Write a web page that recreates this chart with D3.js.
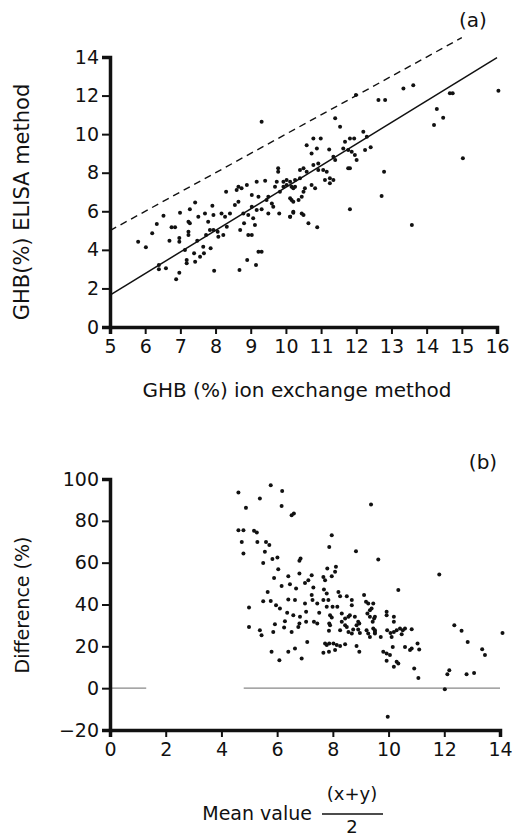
<!DOCTYPE html>
<html>
<head>
<meta charset="utf-8">
<script src="https://cdn.jsdelivr.net/npm/d3@7"></script>
<style>
  body { margin: 0; background: #fff; }
  svg text { font-family: "DejaVu Sans", sans-serif; fill: #111; }
</style>
</head>
<body>
<svg id="chart" width="514" height="838"></svg>
<script>
// panel (a): ion exchange (x) vs ELISA (y), GHB %
const ionX = [5.80,6.02,6.20,6.33,6.52,6.39,6.39,6.59,6.69,6.75,6.85,6.97,6.97,6.99,6.88,6.97,7.23,7.27,7.27,7.42,
  7.23,7.23,7.18,7.18,7.13,7.39,7.42,7.48,7.51,7.56,7.67,7.65,7.70,7.73,7.79,7.86,7.84,7.94,7.91,7.94,
  7.96,8.06,8.08,8.17,8.27,8.22,8.30,8.32,8.41,8.60,8.65,8.74,8.89,8.55,8.65,8.70,8.68,8.79,8.93,8.81,
  8.93,9.03,8.90,9.03,9.22,9.03,9.17,9.07,9.12,9.15,9.17,9.22,9.31,9.31,9.41,9.45,9.50,9.50,9.60,9.64,
  9.69,9.78,9.78,9.81,9.74,9.93,10.12,9.83,9.93,10.02,10.12,10.16,10.21,10.26,10.40,
  11.99,12.63,12.82,11.40,11.54,10.59,10.78,10.99,10.73,10.88,11.23,11.35,11.40,11.68,11.82,11.94,
  11.63,11.77,11.87,11.96,12.01,11.77,11.82,12.20,12.30,12.25,12.41,12.79,12.72,11.82,13.58,
  11.06,11.16,11.11,11.25,11.35,11.25,10.78,10.92,10.50,10.59,10.92,10.40,10.26,10.02,10.16,10.21,
  10.54,10.50,10.73,10.83,10.45,10.36,10.12,10.21,10.21,10.45,10.50,10.64,10.89,10.12,
  14.66,14.74,14.29,14.47,14.21,15.03,13.34,13.62,16.04,9.31];
const elisaY = [4.42,4.13,4.86,5.34,5.77,3.21,3.00,3.04,4.47,5.17,5.17,4.61,4.42,5.93,2.47,2.81,5.46,5.38,6.10,6.46,
  4.94,4.77,3.47,3.30,3.99,3.82,3.38,4.47,5.72,3.64,3.82,4.16,5.89,4.77,5.46,4.08,5.03,5.03,6.29,5.81,
  2.92,4.94,4.68,5.89,5.72,4.77,7.01,5.20,5.89,7.10,7.27,7.19,7.36,6.32,6.50,5.03,2.95,5.89,5.81,5.38,
  4.77,4.77,3.47,6.84,6.75,6.24,6.07,5.64,5.29,3.21,7.53,3.90,3.90,6.10,7.58,6.58,6.75,5.89,6.41,6.24,
  7.27,8.23,8.05,5.89,7.53,7.53,7.53,7.01,7.27,7.36,5.72,6.58,5.98,7.27,8.14,
  12.03,11.77,11.77,10.82,10.38,9.43,9.78,9.78,9.00,9.26,9.21,8.83,8.66,9.61,9.78,9.78,
  9.26,9.18,9.09,8.92,8.66,8.23,8.23,10.12,9.87,9.18,9.32,8.05,6.79,6.10,5.29,
  8.14,8.05,7.62,7.71,7.62,7.45,8.40,8.48,8.23,8.05,8.14,7.71,7.62,7.62,7.27,7.19,
  7.19,7.01,7.36,7.19,6.75,6.58,6.67,6.50,5.93,5.89,5.81,5.38,5.17,5.72,
  12.12,12.12,11.30,10.85,10.47,8.75,12.37,12.54,12.25,10.64];

// fitted line (solid) and line of identity (dashed)
const fitIntercept = -3.95, fitSlope = 1.12;
const fitRange = [5, 16];
const identityRange = [5, 15];

const ticksAX = [5,6,7,8,9,10,11,12,13,14,15,16];
const ticksAY = [0,2,4,6,8,10,12,14];

// panel (b): mean value vs difference %
const meanVal = [4.61,4.88,4.61,4.79,4.73,4.79,4.99,4.99,5.38,5.17,5.27,5.29,5.56,5.50,5.60,5.72,5.77,6.18,6.16,6.52,
  6.60,5.83,6.01,6.04,5.89,5.66,5.50,5.77,5.96,6.10,5.38,5.44,5.92,5.86,5.80,6.08,6.16,6.40,6.46,6.40,
  6.64,6.36,6.58,6.28,6.25,6.52,6.40,6.64,6.68,6.80,6.80,6.84,6.82,6.80,6.76,6.88,7.08,7.00,7.04,7.04,
  7.12,7.24,7.00,7.24,7.27,7.30,7.32,7.44,7.51,7.44,7.66,7.72,7.80,8.11,7.96,8.08,7.68,7.78,7.66,7.84,
  7.78,7.99,7.90,7.96,7.87,7.90,7.86,7.72,7.78,7.87,8.02,8.14,7.66,7.86,8.08,8.26,8.44,8.20,8.26,8.16,
  8.32,8.32,8.44,8.56,8.61,8.44,8.50,8.56,8.68,8.26,8.50,8.68,8.68,8.79,8.91,8.85,8.95,8.91,8.97,8.85,
  8.95,8.73,9.12,9.19,9.27,9.33,9.24,9.33,9.48,9.21,9.27,9.33,9.45,9.51,7.96,7.87,8.83,9.37,9.63,
  11.82,10.35,9.45,9.39,9.51,9.43,9.93,9.93,10.19,10.19,9.51,9.51,9.72,9.95,10.07,10.19,10.29,10.41,10.51,10.59,
  10.47,10.83,10.11,10.15,9.81,9.93,10.05,9.93,10.19,10.29,10.35,10.59,10.77,10.83,11.04,11.10,10.92,11.07,
  12.18,12.11,12.02,12.36,12.62,12.84,12.80,13.07,13.36,13.46,14.09,9.97];
const diffPct = [93.5,86.2,75.5,75.5,69.9,64.4,38.6,29.3,90.7,75.2,74.4,69.9,65.2,59.9,69.9,68.4,97.0,94.3,87.1,82.7,
  83.5,61.7,62.5,56.9,52.7,46.0,41.6,41.7,39.7,38.1,27.7,25.3,30.6,26.9,17.4,13.4,48.8,53.5,49.7,42.4,
  42.1,36.0,34.9,32.0,29.0,26.9,17.4,19.0,47.7,54.8,60.9,62.0,34.1,30.9,29.3,14.2,22.1,40.5,36.5,31.7,
  51.6,54.0,50.3,44.5,42.1,48.1,31.7,30.9,36.0,40.5,53.2,51.6,57.2,58.0,53.5,55.6,47.2,45.3,42.1,42.1,
  38.9,38.9,34.9,33.8,30.9,30.1,27.4,21.4,20.6,21.4,21.4,20.6,16.9,17.4,18.2,20.2,21.0,46.0,44.0,38.9,
  35.7,31.7,33.3,34.1,34.9,30.1,29.3,26.9,26.1,27.7,44.0,42.1,39.7,34.1,31.7,30.1,30.9,28.1,26.4,20.1,
  17.4,28.1,44.5,41.3,40.5,37.3,35.7,34.1,33.3,27.7,26.1,24.5,28.5,26.9,73.1,67.5,65.5,87.8,61.5,
  54.4,46.9,40.5,38.1,34.1,31.7,36.5,34.9,34.1,31.7,27.7,26.1,24.5,27.7,26.4,26.9,27.7,28.5,27.7,28.5,
  25.8,28.2,24.5,19.7,17.4,16.6,15.8,13.1,10.2,12.6,11.8,19.7,18.2,19.0,21.4,18.5,9.4,4.9,
  8.6,6.7,-0.5,30.1,27.4,22.1,6.7,7.3,18.6,15.8,26.4,-13.7];

const zeroSegments = [[0, 1.3], [4.8, 14]];
const ticksBX = [0,2,4,6,8,10,12,14];
const ticksBY = [-20,0,20,40,60,80,100];

const svg = d3.select("#chart");

// ---------- panel (a) ----------
const xA = d3.scaleLinear().domain([5, 16]).range([110, 497]);
const yA = d3.scaleLinear().domain([0, 14]).range([327, 57]);

const gA = svg.append("g");

gA.append("g")
  .attr("transform", `translate(${xA(5)},0)`)
  .call(d3.axisLeft(yA).tickValues(ticksAY).tickSizeOuter(0).tickSize(8).tickPadding(3));
gA.append("g")
  .attr("transform", `translate(0,${yA(0)})`)
  .call(d3.axisBottom(xA).tickValues(ticksAX).tickSizeOuter(0).tickSize(7).tickPadding(6));

// identity line
const lineA = d3.line().x(d => xA(d[0])).y(d => yA(d[1]));
gA.append("path")
  .datum(identityRange.map(v => [v, v]))
  .attr("d", lineA)
  .attr("fill", "none").attr("stroke", "#111").attr("stroke-width", 1.4)
  .attr("stroke-dasharray", "7,5");
// fitted line
gA.append("path")
  .datum(fitRange.map(v => [v, fitIntercept + fitSlope * v]))
  .attr("d", lineA)
  .attr("fill", "none").attr("stroke", "#111").attr("stroke-width", 1.5);

gA.selectAll("circle.pt")
  .data(ionX.map((v, i) => [v, elisaY[i]]))
  .join("circle")
  .attr("class", "pt")
  .attr("cx", d => xA(d[0]))
  .attr("cy", d => yA(d[1]))
  .attr("r", 2)
  .attr("fill", "#111");

gA.append("text").attr("x", 473).attr("y", 27).attr("text-anchor", "middle")
  .style("font-size", "20px").text("(a)");
gA.append("text")
  .attr("transform", "translate(29,202) rotate(-90)")
  .attr("text-anchor", "middle").style("font-size", "21px")
  .text("GHB(%) ELISA method");
gA.append("text").attr("x", 297).attr("y", 397).attr("text-anchor", "middle")
  .style("font-size", "20px").text("GHB (%) ion exchange method");

// ---------- panel (b) ----------
const xB = d3.scaleLinear().domain([0, 14]).range([110, 500]);
const yB = d3.scaleLinear().domain([-20, 100]).range([730, 479]);

const gB = svg.append("g");

gB.selectAll("line.zero")
  .data(zeroSegments)
  .join("line")
  .attr("class", "zero")
  .attr("x1", d => xB(d[0])).attr("x2", d => xB(d[1]))
  .attr("y1", yB(0)).attr("y2", yB(0))
  .attr("stroke", "#888").attr("stroke-width", 1.2);

gB.append("g")
  .attr("transform", `translate(${xB(0)},0)`)
  .call(d3.axisLeft(yB).tickValues(ticksBY).tickSizeOuter(0).tickSize(8).tickPadding(3));
gB.append("g")
  .attr("transform", `translate(0,${yB(-20)})`)
  .call(d3.axisBottom(xB).tickValues(ticksBX).tickSizeOuter(0).tickSize(7).tickPadding(6));

gB.selectAll("circle.pt")
  .data(meanVal.map((v, i) => [v, diffPct[i]]))
  .join("circle")
  .attr("class", "pt")
  .attr("cx", d => xB(d[0]))
  .attr("cy", d => yB(d[1]))
  .attr("r", 2)
  .attr("fill", "#111");

gB.append("text").attr("x", 483).attr("y", 469).attr("text-anchor", "middle")
  .style("font-size", "20px").text("(b)");
gB.append("text")
  .attr("transform", "translate(29,605) rotate(-90)")
  .attr("text-anchor", "middle").style("font-size", "19px")
  .text("Difference (%)");
gB.append("text").attr("x", 312).attr("y", 820).attr("text-anchor", "end")
  .style("font-size", "19px").text("Mean value");
gB.append("text").attr("x", 352).attr("y", 800).attr("text-anchor", "middle")
  .style("font-size", "18px").text("(x+y)");
gB.append("line").attr("x1", 322).attr("x2", 383).attr("y1", 814).attr("y2", 814)
  .attr("stroke", "#111").attr("stroke-width", 1.6);
gB.append("text").attr("x", 352).attr("y", 833).attr("text-anchor", "middle")
  .style("font-size", "18px").text("2");

// axis styling: heavy lines like the printed figure
svg.selectAll(".domain").attr("stroke", "#111").attr("stroke-width", 3.5);
svg.selectAll(".tick line").attr("stroke", "#111").attr("stroke-width", 2);
svg.selectAll(".tick text").style("font-size", "19px").attr("fill", "#111");
</script>
</body>
</html>
